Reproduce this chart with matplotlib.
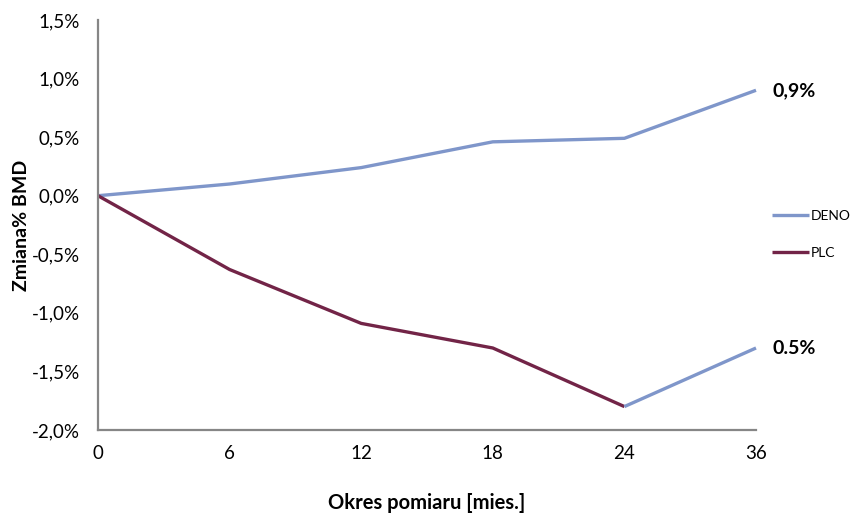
import matplotlib
matplotlib.use("Agg")
import matplotlib.pyplot as plt
from matplotlib.ticker import FuncFormatter

plt.rcParams['font.family'] = ['Lato', 'DejaVu Sans']

months = ["0", "6", "12", "18", "24", "36"]
deno = [0.0, 0.10, 0.24, 0.46, 0.49, 0.90]
plc = [0.0, -0.63, -1.09, -1.30, -1.80, -1.30]
end_labels = ["0,9%", "0.5%"]

deno_color = "#7F96CA"
plc_color = "#722447"
axis_color = "#868686"

fig = plt.figure(figsize=(8.54, 5.15), dpi=100)
ax = fig.add_axes([98 / 854, 1 - 430 / 515, 658 / 854, 410 / 515])

x = list(range(len(months)))
ax.plot(x, deno, color=deno_color, lw=2.4, clip_on=False, label="DENO",
        solid_capstyle="butt")
ax.plot(x[:5], plc[:5], color=plc_color, lw=2.4, clip_on=False, label="PLC",
        solid_capstyle="butt")
# final PLC segment drawn in the DENO colour
ax.plot(x[4:], plc[4:], color=deno_color, lw=2.4, clip_on=False,
        solid_capstyle="butt")

ax.set_xlim(0, len(months) - 1)
ax.set_ylim(-2.0, 1.5)
ax.set_xticks(x)
ax.set_xticklabels(months)
ax.set_yticks([-2.0, -1.5, -1.0, -0.5, 0.0, 0.5, 1.0, 1.5])
ax.yaxis.set_major_formatter(FuncFormatter(lambda v, p: f"{v:.1f}%".replace(".", ",")))
ax.tick_params(axis="both", length=0, labelsize=13.5, colors="black")
ax.tick_params(axis="x", pad=11)
ax.tick_params(axis="y", pad=13)

for side in ("top", "right"):
    ax.spines[side].set_visible(False)
for side in ("left", "bottom"):
    ax.spines[side].set_color(axis_color)
    ax.spines[side].set_linewidth(1.6)

ax.set_xlabel("Okres pomiaru [mies.]", fontsize=14.5, fontweight="bold", labelpad=22)
ax.set_ylabel("Zmiana% BMD", fontsize=14, fontweight="bold", labelpad=1)

ax.annotate(end_labels[0], xy=(x[-1], deno[-1]), xytext=(12, 0),
            textcoords="offset points", va="center", ha="left",
            fontsize=14, fontweight="bold", annotation_clip=False)
ax.annotate(end_labels[1], xy=(x[-1], plc[-1]), xytext=(12, 0),
            textcoords="offset points", va="center", ha="left",
            fontsize=14, fontweight="bold", annotation_clip=False)

ax.legend(loc="center left", bbox_to_anchor=(1.0, 0.477), frameon=False,
          fontsize=10, handlelength=2.7, handletextpad=0.12, labelspacing=1.85,
          borderaxespad=0.95, borderpad=0.2)

fig.savefig("out.png", dpi=100)
